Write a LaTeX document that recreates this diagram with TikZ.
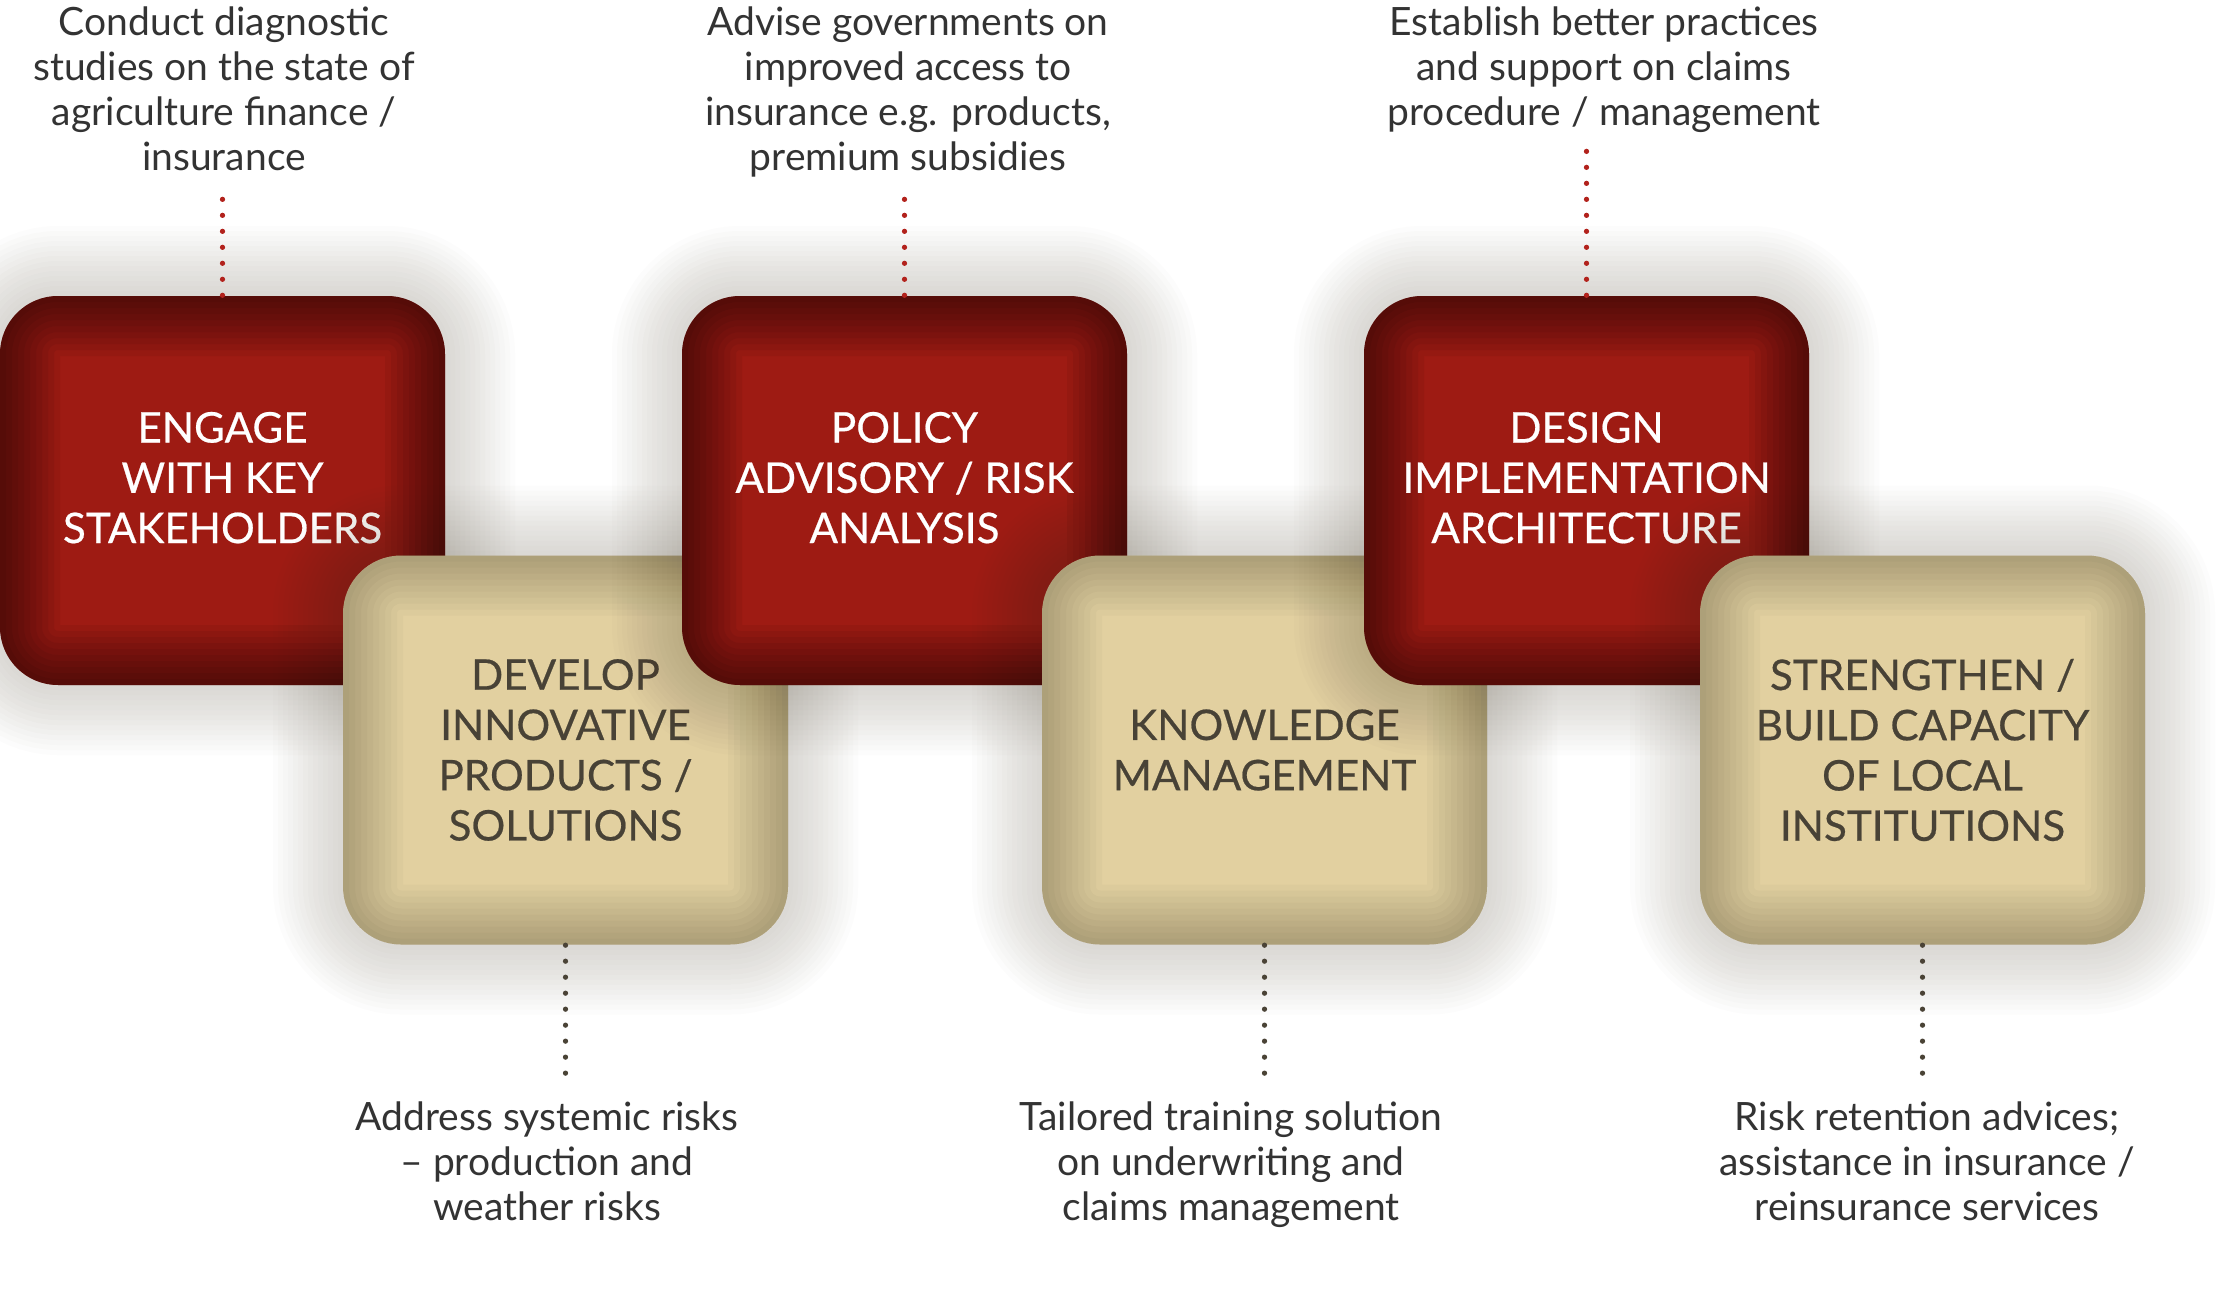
\documentclass[tikz,border=0pt]{standalone}
\usepackage{fontspec}
\setmainfont{Lato}
\newfontfamily\boxfont{Lato}[FakeBold=0.5]

\definecolor{boxred}{RGB}{158,27,19}
\definecolor{boxtan}{RGB}{226,208,160}
\definecolor{tantext}{RGB}{72,66,54}
\definecolor{notetext}{RGB}{51,51,51}
\definecolor{dotred}{RGB}{178,34,28}
\definecolor{dotgrey}{RGB}{74,67,54}
\definecolor{shade}{RGB}{70,60,40}

\tikzset{
  halo/.style={preaction={draw=shade, line width=#1mm, opacity=.016}},
  bevel/.style={path picture={
      \foreach \w in {1,...,10}
        \draw[black, opacity=#1, line width=\w*1.2mm, rounded corners=5.8mm]
          (path picture bounding box.south west) rectangle (path picture bounding box.north east);}},
  box/.style={rounded corners=5.8mm, minimum width=4.45cm, minimum height=3.89cm,
    inner sep=0pt, align=center, font=\boxfont\fontsize{12}{14.3}\selectfont,
    halo/.list={1,2,...,14}},
  redbox/.style={box, fill=boxred, text=white, text depth=2.6mm, bevel=.055},
  tanbox/.style={box, fill=boxtan, text=tantext, bevel=.022},
  note/.style={align=center, inner sep=0pt, text=notetext, text depth=.3em,
    font=\fontsize{11.1}{12.8}\selectfont},
  dots/.style={line width=1.5pt, line cap=round, dash pattern=on 0pt off 4.55pt},
  reddots/.style={dots, dotred, shorten >=1.5mm},
  greydots/.style={dots, dotgrey, shorten >=2.3mm}
}

\begin{document}
\begin{tikzpicture}

  \useasboundingbox (0,0) rectangle (22.28,12.89);

  % boxes, back to front
  \node[redbox] (engage)     at (2.225,7.985)  {ENGAGE\\WITH KEY\\STAKEHOLDERS};
  \node[tanbox] (develop)    at (5.655,5.39)   {DEVELOP\\INNOVATIVE\\PRODUCTS /\\SOLUTIONS};
  \node[redbox] (policy)     at (9.045,7.985)  {POLICY\\ADVISORY / RISK\\ANALYSIS};
  \node[tanbox] (knowledge)  at (12.645,5.39)  {KNOWLEDGE\\MANAGEMENT};
  \node[redbox] (design)     at (15.865,7.985) {DESIGN\\IMPLEMENTATION\\ARCHITECTURE};
  \node[tanbox] (strengthen) at (19.225,5.39)  {STRENGTHEN /\\BUILD CAPACITY\\OF LOCAL\\INSTITUTIONS};

  \begin{scope}[every node/.style={note, anchor=north}]
    \node (diagnostic) at (2.24,12.83)  {Conduct diagnostic\\studies on the state of\\agriculture finance /\\insurance};
    \node (advise)     at (9.08,12.83)  {Advise governments on\\improved access to\\insurance e.g. products,\\premium subsidies};
    \node (practices)  at (16.04,12.83) {Establish better practices\\and support on claims\\procedure / management};
    \node (systemic)   at (5.47,1.88)   {Address systemic risks\\– production and\\weather risks};
    \node (training)   at (12.31,1.88)  {Tailored training solution\\on underwriting and\\claims management};
    \node (retention)  at (19.27,1.88)  {Risk retention advices;\\assistance in insurance /\\reinsurance services};
  \end{scope}

  \draw[reddots] (engage.north) -- (engage.north |- diagnostic.south);
  \draw[reddots] (policy.north) -- (policy.north |- advise.south);
  \draw[reddots, shorten >=.3mm] (design.north) -- (design.north |- practices.south);

  \draw[greydots] (develop.south)    -- (develop.south |- systemic.north);
  \draw[greydots] (knowledge.south)  -- (knowledge.south |- training.north);
  \draw[greydots] (strengthen.south) -- (strengthen.south |- retention.north);

\end{tikzpicture}
\end{document}
